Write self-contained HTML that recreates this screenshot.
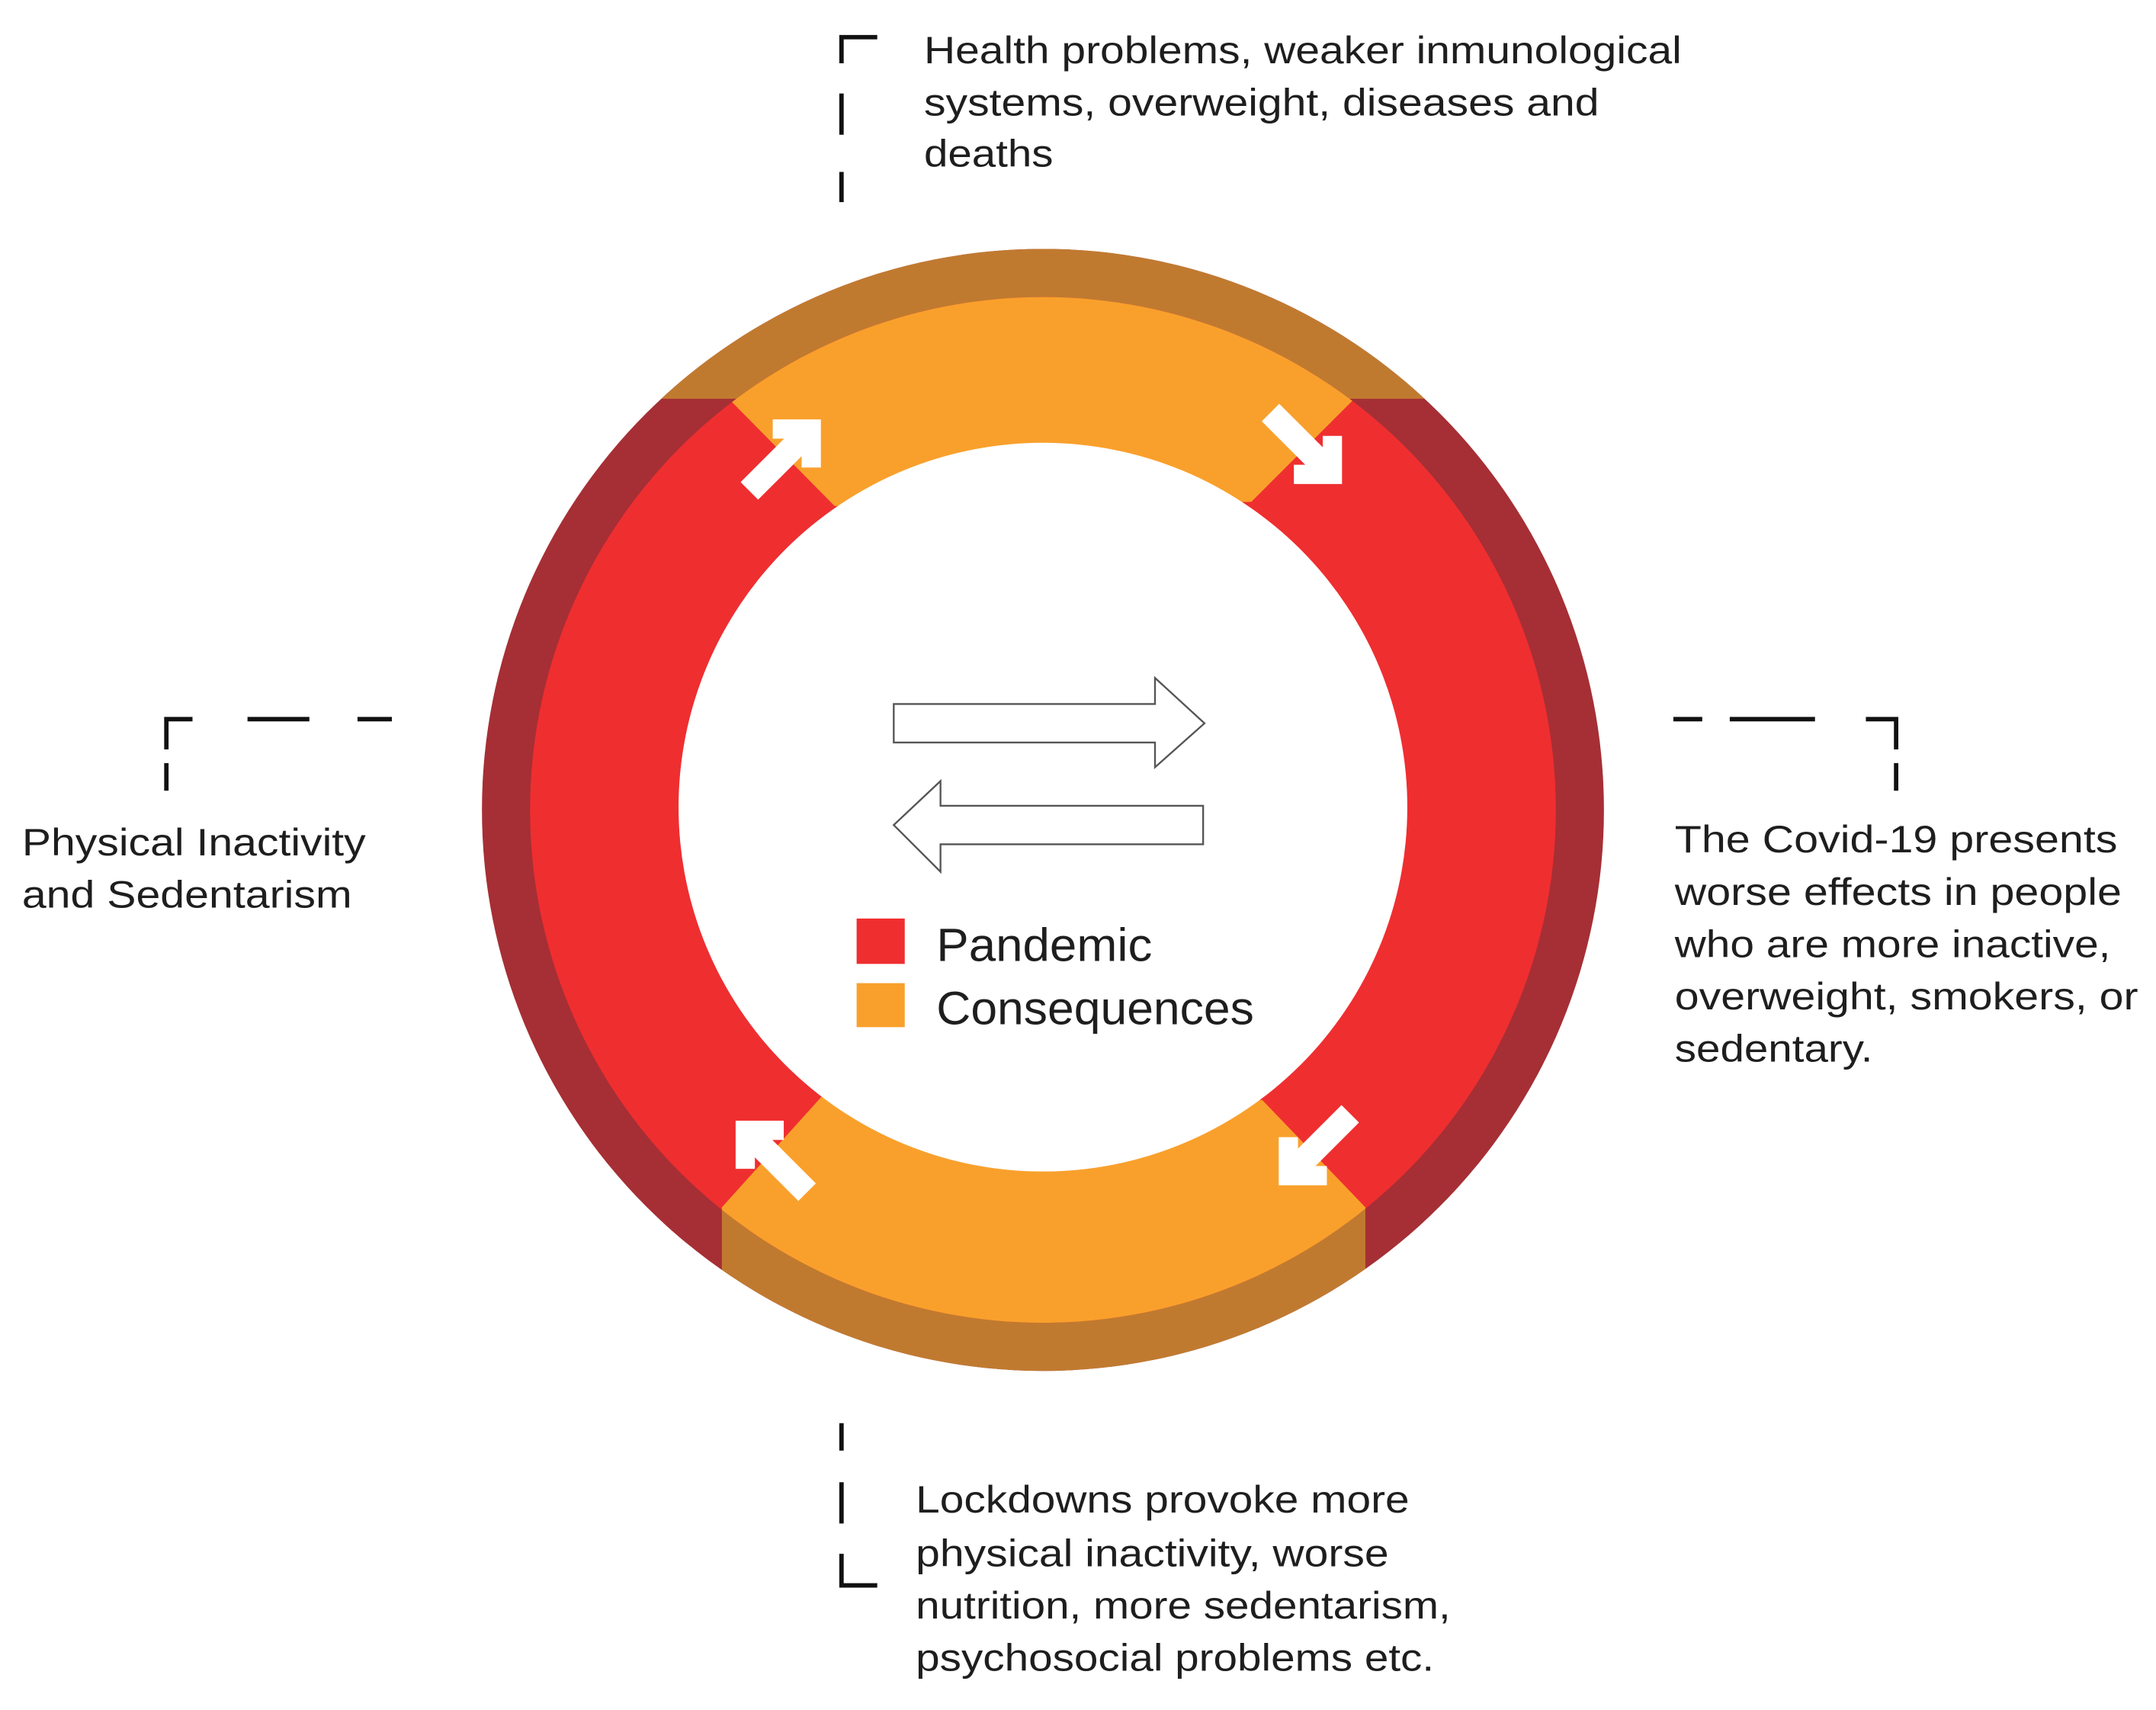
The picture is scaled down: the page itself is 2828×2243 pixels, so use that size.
<!DOCTYPE html>
<html><head><meta charset="utf-8"><style>
html,body{margin:0;padding:0;background:#fff;}
svg{display:block;}
text{font-family:"Liberation Sans",sans-serif;fill:#1e1e1e;}
</style></head><body>
<svg width="2828" height="2243" viewBox="0 0 1568 1243.6" xmlns="http://www.w3.org/2000/svg">
<defs>
<clipPath id="co"><circle cx="758.5" cy="589" r="408"/></clipPath>
<clipPath id="ci"><circle cx="758.5" cy="589" r="373"/></clipPath>
</defs>
<rect width="1568" height="1243.6" fill="#fff"/>
<circle cx="758.5" cy="589" r="408" fill="#a52f35"/>
<g clip-path="url(#co)">
<rect x="300" y="100" width="920" height="190" fill="#c07a30"/>
<rect x="525" y="860" width="468" height="200" fill="#c07a30"/>
</g>
<circle cx="758.5" cy="589" r="373" fill="#ef2e30"/>
<g clip-path="url(#ci)" fill="#f9a02c">
<polygon points="300,100 1220,100 1220,290 985,290 910,365 607,368 530,290 300,290"/>
<polygon points="525,878 598,797 918,800 993,878 993,1100 525,1100"/>
</g>
<circle cx="758.5" cy="587" r="265" fill="#fff"/>
<g stroke="#fff" fill="none" stroke-linejoin="miter" stroke-miterlimit="10">
<polyline points="562,312 590,312 590,340" stroke-width="14"/>
<line x1="590" y1="312" x2="545" y2="357" stroke-width="18"/>
<polyline points="941,345 969,345 969,317" stroke-width="14"/>
<line x1="969" y1="345" x2="924" y2="300" stroke-width="18"/>
<polyline points="542,850 542,822 570,822" stroke-width="14"/>
<line x1="542" y1="822" x2="587" y2="867" stroke-width="18"/>
<polyline points="937,827 937,855 965,855" stroke-width="14"/>
<line x1="937" y1="855" x2="982" y2="810" stroke-width="18"/>
</g>
<g fill="#fff" stroke="#555" stroke-width="1.3">
<polygon points="650,512 840,512 840,493 876,526 840,558 840,540 650,540"/>
<polygon points="875,586 684,586 684,568 650,600 684,634 684,614 875,614"/>
</g>
<rect x="623" y="668" width="35" height="33" fill="#ef2e30"/>
<rect x="623" y="715" width="35" height="32" fill="#f9a02c"/>
<text x="681" y="699" font-size="34" textLength="157" lengthAdjust="spacingAndGlyphs">Pandemic</text>
<text x="681" y="745" font-size="34" textLength="231" lengthAdjust="spacingAndGlyphs">Consequences</text>
<g stroke="#111" stroke-width="3.2" fill="none">
<polyline points="638,27 612,27 612,46"/>
<line x1="612" y1="68" x2="612" y2="98"/>
<line x1="612" y1="125" x2="612" y2="147"/>
<polyline points="140,523 121,523 121,545"/>
<line x1="121" y1="555" x2="121" y2="575"/>
<line x1="180" y1="523" x2="225" y2="523"/>
<line x1="260" y1="523" x2="285" y2="523"/>
<polyline points="1357,523 1379,523 1379,545"/>
<line x1="1379" y1="555" x2="1379" y2="575"/>
<line x1="1258" y1="523" x2="1320" y2="523"/>
<line x1="1217" y1="523" x2="1238" y2="523"/>
<polyline points="638,1153 612,1153 612,1130"/>
<line x1="612" y1="1078" x2="612" y2="1108"/>
<line x1="612" y1="1035" x2="612" y2="1055"/>
</g>
<g font-size="28" lengthAdjust="spacingAndGlyphs">
<text x="672" y="46" textLength="551" lengthAdjust="spacingAndGlyphs">Health problems, weaker inmunological</text>
<text x="672" y="84" textLength="491" lengthAdjust="spacingAndGlyphs">systems, overweight, diseases and</text>
<text x="672" y="121" textLength="94" lengthAdjust="spacingAndGlyphs">deaths</text>
<text x="16" y="622" textLength="250" lengthAdjust="spacingAndGlyphs">Physical Inactivity</text>
<text x="16" y="660" textLength="240" lengthAdjust="spacingAndGlyphs">and Sedentarism</text>
<text x="1218" y="620" textLength="322" lengthAdjust="spacingAndGlyphs">The Covid-19 presents</text>
<text x="1218" y="658" textLength="325" lengthAdjust="spacingAndGlyphs">worse effects in people</text>
<text x="1218" y="696" textLength="317" lengthAdjust="spacingAndGlyphs">who are more inactive,</text>
<text x="1218" y="734" textLength="337" lengthAdjust="spacingAndGlyphs">overweight, smokers, or</text>
<text x="1218" y="772" textLength="144" lengthAdjust="spacingAndGlyphs">sedentary.</text>
<text x="666" y="1100" textLength="359" lengthAdjust="spacingAndGlyphs">Lockdowns provoke more</text>
<text x="666" y="1139" textLength="344" lengthAdjust="spacingAndGlyphs">physical inactivity, worse</text>
<text x="666" y="1177" textLength="389" lengthAdjust="spacingAndGlyphs">nutrition, more sedentarism,</text>
<text x="666" y="1215" textLength="377" lengthAdjust="spacingAndGlyphs">psychosocial problems etc.</text>
</g>
</svg>
</body></html>
